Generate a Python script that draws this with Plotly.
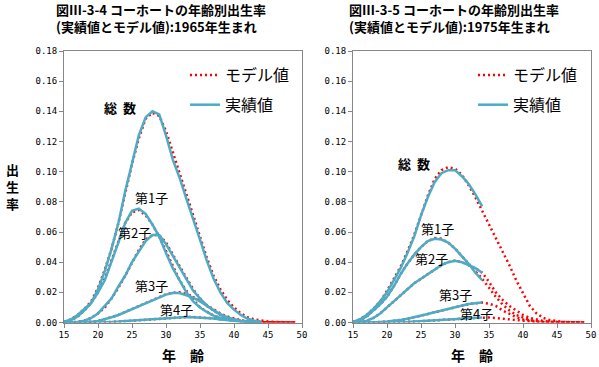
import plotly.graph_objects as go

W, H = 599, 367

# ---------------- data ----------------
ages_model = list(range(15, 50))      # model values: age 15..49
ages_1965 = list(range(15, 45))       # actual values 1965 cohort: 15..44
ages_1975 = list(range(15, 35))       # actual values 1975 cohort: 15..34
x_ticks = [15, 20, 25, 30, 35, 40, 45, 50]

# 1965 cohort - actual
act65_total = [0.0005, 0.002, 0.005, 0.009, 0.013, 0.022, 0.034, 0.049, 0.066, 0.087,
               0.106, 0.124, 0.136, 0.140, 0.138, 0.124, 0.108, 0.096, 0.082, 0.069,
               0.055, 0.041, 0.029, 0.020, 0.013, 0.0085, 0.005, 0.0025, 0.0012, 0.0005]
act65_1st = [0.0003, 0.0015, 0.004, 0.008, 0.013, 0.020, 0.028, 0.040, 0.053, 0.066,
             0.074, 0.0755, 0.072, 0.065, 0.057, 0.046, 0.036, 0.028, 0.020, 0.014,
             0.010, 0.007, 0.0045, 0.003, 0.002, 0.0012, 0.0007, 0.0004, 0.0002, 0.0001]
act65_2nd = [0.0, 0.0001, 0.0004, 0.0012, 0.003, 0.006, 0.011, 0.016, 0.024, 0.031,
             0.040, 0.047, 0.054, 0.058, 0.058, 0.052, 0.044, 0.036, 0.028, 0.021,
             0.016, 0.011, 0.008, 0.005, 0.003, 0.0018, 0.001, 0.0005, 0.0002, 0.0001]
act65_3rd = [0.0, 0.0, 0.0001, 0.0002, 0.0005, 0.001, 0.002, 0.0035, 0.005, 0.007,
             0.009, 0.011, 0.013, 0.015, 0.017, 0.0185, 0.0195, 0.0195, 0.018, 0.0165,
             0.014, 0.011, 0.008, 0.0055, 0.0035, 0.002, 0.0012, 0.0006, 0.0003, 0.0001]
act65_4th = [0.0, 0.0, 0.0, 0.0, 0.0, 0.0001, 0.0002, 0.0004, 0.0006, 0.0009,
             0.0012, 0.0015, 0.0019, 0.0023, 0.0027, 0.003, 0.0033, 0.0035, 0.0036, 0.0035,
             0.0033, 0.003, 0.0026, 0.002, 0.0015, 0.001, 0.0007, 0.0004, 0.0002, 0.0001]

# 1965 cohort - model
mod65_total = [0.0005, 0.002, 0.005, 0.009, 0.014, 0.023, 0.035, 0.049, 0.066, 0.086,
               0.105, 0.122, 0.135, 0.139, 0.137, 0.127, 0.113, 0.099, 0.085, 0.071,
               0.057, 0.043, 0.031, 0.022, 0.015, 0.010, 0.006, 0.0035, 0.002, 0.0012,
               0.0007, 0.0004, 0.0002, 0.0001, 0.0]
mod65_1st = [0.0003, 0.0015, 0.004, 0.008, 0.013, 0.020, 0.029, 0.041, 0.054, 0.066,
             0.073, 0.0745, 0.071, 0.065, 0.057, 0.047, 0.037, 0.028, 0.021, 0.015,
             0.010, 0.007, 0.0045, 0.003, 0.002, 0.0013, 0.0008, 0.0005, 0.0003, 0.0002,
             0.0001, 0.0, 0.0, 0.0, 0.0]
mod65_2nd = [0.0, 0.0001, 0.0004, 0.0012, 0.003, 0.006, 0.010, 0.016, 0.023, 0.031,
             0.040, 0.048, 0.055, 0.058, 0.058, 0.053, 0.045, 0.037, 0.029, 0.022,
             0.016, 0.011, 0.008, 0.005, 0.003, 0.002, 0.0012, 0.0007, 0.0004, 0.0002,
             0.0001, 0.0, 0.0, 0.0, 0.0]
mod65_3rd = [0.0, 0.0, 0.0001, 0.0002, 0.0005, 0.001, 0.002, 0.0035, 0.005, 0.007,
             0.009, 0.011, 0.013, 0.015, 0.017, 0.0187, 0.0197, 0.020, 0.019, 0.017,
             0.0145, 0.0115, 0.0085, 0.006, 0.004, 0.0025, 0.0015, 0.0009, 0.0005, 0.0003,
             0.0002, 0.0001, 0.0, 0.0, 0.0]
mod65_4th = [0.0, 0.0, 0.0, 0.0, 0.0, 0.0001, 0.0002, 0.0004, 0.0006, 0.0009,
             0.0012, 0.0015, 0.0019, 0.0023, 0.0027, 0.003, 0.0033, 0.0035, 0.0036, 0.0036,
             0.0034, 0.0031, 0.0027, 0.0022, 0.0017, 0.0012, 0.0008, 0.0005, 0.0003, 0.0002,
             0.0001, 0.0, 0.0, 0.0, 0.0]

# 1975 cohort - actual
act75_total = [0.0005, 0.002, 0.005, 0.009, 0.014, 0.020, 0.028, 0.036, 0.046, 0.057,
               0.071, 0.083, 0.093, 0.099, 0.101, 0.101, 0.097, 0.092, 0.085, 0.077]
act75_1st = [0.0003, 0.0015, 0.004, 0.008, 0.012, 0.017, 0.024, 0.032, 0.039, 0.045,
             0.050, 0.054, 0.0555, 0.055, 0.053, 0.049, 0.044, 0.039, 0.033, 0.028]
act75_2nd = [0.0, 0.0003, 0.001, 0.003, 0.006, 0.010, 0.014, 0.018, 0.022, 0.026,
             0.029, 0.032, 0.035, 0.038, 0.040, 0.041, 0.040, 0.038, 0.036, 0.033]
act75_3rd = [0.0, 0.0, 0.0, 0.0001, 0.0003, 0.0006, 0.001, 0.0017, 0.0025, 0.0034,
             0.0045, 0.0056, 0.0068, 0.0079, 0.009, 0.0102, 0.0113, 0.0122, 0.0128, 0.0132]
act75_4th = [0.0, 0.0, 0.0, 0.0, 0.0, 0.0001, 0.0002, 0.0003, 0.0004, 0.0006,
             0.0008, 0.001, 0.0013, 0.0016, 0.0019, 0.0022, 0.0025, 0.0028, 0.0031, 0.0033]

# 1975 cohort - model
mod75_total = [0.0005, 0.002, 0.005, 0.009, 0.014, 0.021, 0.029, 0.037, 0.047, 0.058,
               0.071, 0.084, 0.095, 0.101, 0.103, 0.102, 0.098, 0.091, 0.083, 0.074,
               0.066, 0.057, 0.048, 0.038, 0.028, 0.019, 0.011, 0.006, 0.003, 0.0015,
               0.0008, 0.0004, 0.0002, 0.0001, 0.0]
mod75_1st = [0.0003, 0.0015, 0.004, 0.008, 0.012, 0.017, 0.024, 0.032, 0.039, 0.045,
             0.050, 0.054, 0.056, 0.0555, 0.053, 0.049, 0.044, 0.039, 0.034, 0.029,
             0.023, 0.017, 0.012, 0.008, 0.005, 0.003, 0.0015, 0.0008, 0.0004, 0.0002,
             0.0001, 0.0, 0.0, 0.0, 0.0]
mod75_2nd = [0.0, 0.0003, 0.001, 0.003, 0.006, 0.010, 0.014, 0.018, 0.022, 0.026,
             0.029, 0.032, 0.035, 0.038, 0.040, 0.041, 0.040, 0.038, 0.036, 0.033,
             0.027, 0.020, 0.015, 0.011, 0.008, 0.005, 0.003, 0.0018, 0.001, 0.0005,
             0.0003, 0.0001, 0.0, 0.0, 0.0]
mod75_3rd = [0.0, 0.0, 0.0, 0.0001, 0.0003, 0.0006, 0.001, 0.0017, 0.0025, 0.0034,
             0.0045, 0.0056, 0.0068, 0.0079, 0.009, 0.0102, 0.0113, 0.0122, 0.0128, 0.0132,
             0.0125, 0.011, 0.008, 0.0055, 0.0035, 0.002, 0.0012, 0.0007, 0.0004, 0.0002,
             0.0001, 0.0, 0.0, 0.0, 0.0]
mod75_4th = [0.0, 0.0, 0.0, 0.0, 0.0, 0.0001, 0.0002, 0.0003, 0.0004, 0.0006,
             0.0008, 0.001, 0.0013, 0.0016, 0.0019, 0.0022, 0.0025, 0.0028, 0.0031, 0.0033,
             0.0033, 0.003, 0.0025, 0.002, 0.0014, 0.001, 0.0006, 0.0003, 0.0002, 0.0001,
             0.0, 0.0, 0.0, 0.0, 0.0]

series_labels = ["<b>総&nbsp;&nbsp;数</b>", "第1子", "第2子", "第3子", "第4子"]
# label anchor points (age, rate) for each panel
label_x_1965 = [23.2, 27.9, 25.4, 27.8, 31.5]
label_y_1965 = [0.1425, 0.083, 0.0595, 0.0245, 0.0085]
label_x_1975 = [23.9, 27.4, 26.6, 30.0, 33.2]
label_y_1975 = [0.1055, 0.0625, 0.0425, 0.0185, 0.006]

titles_1 = ["図Ⅲ-3-4 コーホートの年齢別出生率", "図Ⅲ-3-5 コーホートの年齢別出生率"]
titles_2 = ["(実績値とモデル値):1965年生まれ", "(実績値とモデル値):1975年生まれ"]
legend_names = ["モデル値", "実績値"]
y_title = "出<br>生<br>率"
x_title = "年　齢"

# ---------------- style ----------------
RED = "#FF0000"
BLUE = "#4BACC6"
AXIS = "#868686"
JP = "Noto Sans CJK JP"
MONO = "DejaVu Sans Mono"

fig = go.Figure()

panels = [
    ("x", "y", "legend", ages_1965,
     [mod65_total, mod65_1st, mod65_2nd, mod65_3rd, mod65_4th],
     [act65_total, act65_1st, act65_2nd, act65_3rd, act65_4th],
     label_x_1965, label_y_1965),
    ("x2", "y2", "legend2", ages_1975,
     [mod75_total, mod75_1st, mod75_2nd, mod75_3rd, mod75_4th],
     [act75_total, act75_1st, act75_2nd, act75_3rd, act75_4th],
     label_x_1975, label_y_1975),
]

for xa, ya, lg, ages_act, mods, acts, lx, ly in panels:
    for i, m in enumerate(mods):
        fig.add_trace(go.Scatter(
            x=ages_model, y=m, xaxis=xa, yaxis=ya, mode="lines",
            line=dict(color=RED, width=2.5, dash="2px,3px"),
            name=legend_names[0], showlegend=(i == 0), legend=lg,
            legendgroup=lg + "m", hoverinfo="skip"))
    for i, a in enumerate(acts):
        fig.add_trace(go.Scatter(
            x=ages_act, y=a, xaxis=xa, yaxis=ya, mode="lines",
            line=dict(color=BLUE, width=2.5),
            name=legend_names[1], showlegend=(i == 0), legend=lg,
            legendgroup=lg + "a", hoverinfo="skip"))
    for i, t in enumerate(series_labels):
        fig.add_annotation(
            x=lx[i], y=ly[i], xref=xa, yref=ya, text=t, showarrow=False,
            font=dict(family=JP, size=13, color="black"),
            xanchor="center", yanchor="middle")

# plot area geometry (pixels)
L1, R1 = 64, 302
L2, R2 = 353, 591
TOP, BOT = 51, 322.5

def px(xp):
    return xp / W

def py(yp):
    return 1 - yp / H

axis_common = dict(showgrid=False, zeroline=False, showline=True, linecolor=AXIS,
                   linewidth=1, mirror=True, ticks="outside", ticklen=4,
                   tickcolor=AXIS, automargin=False,
                   tickfont=dict(family=MONO, size=9, color="black"))

leg_common = dict(xanchor="left", yanchor="top",
                  font=dict(family=JP, size=16, color="black"), bgcolor="rgba(0,0,0,0)",
                  itemwidth=30, tracegroupgap=6)

fig.update_layout(
    width=W, height=H,
    margin=dict(l=0, r=0, t=0, b=0, autoexpand=False),
    paper_bgcolor="white", plot_bgcolor="white",
    xaxis=dict(domain=[px(L1), px(R1)], range=[15, 50], tickvals=x_ticks, anchor="y", **axis_common),
    yaxis=dict(domain=[py(BOT), py(TOP)], range=[0, 0.18], dtick=0.02, tickformat=".2f", anchor="x", **axis_common),
    xaxis2=dict(domain=[px(L2), px(R2)], range=[15, 50], tickvals=x_ticks, anchor="y2", **axis_common),
    yaxis2=dict(domain=[py(BOT), py(TOP)], range=[0, 0.18], dtick=0.02, tickformat=".2f", anchor="x2", **axis_common),
    legend=dict(x=px(185), y=py(58), **leg_common),
    legend2=dict(x=px(473), y=py(58), **leg_common),
    showlegend=True,
)

# titles (two separate lines)
for k, x0 in enumerate([55, 348]):
    fig.add_annotation(x=px(x0), y=py(9.5), xref="paper", yref="paper", text="<b>" + titles_1[k] + "</b>",
                       showarrow=False, xanchor="left", yanchor="middle", borderpad=0,
                       font=dict(family=JP, size=13, color="black"))
    fig.add_annotation(x=px(x0), y=py(27), xref="paper", yref="paper", text="<b>" + titles_2[k] + "</b>",
                       showarrow=False, xanchor="left", yanchor="middle", borderpad=0,
                       font=dict(family=JP, size=13, color="black"))

# x axis titles
for cx in [(L1 + R1) / 2, (L2 + R2) / 2]:
    fig.add_annotation(x=px(cx), y=py(355), xref="paper", yref="paper", text="<b>" + x_title + "</b>",
                       showarrow=False, xanchor="center", yanchor="middle",
                       font=dict(family=JP, size=14, color="black"))

# y axis title (stacked characters)
fig.add_annotation(x=px(12), y=py(186), xref="paper", yref="paper", text="<b>" + y_title + "</b>",
                   showarrow=False, xanchor="center", yanchor="middle",
                   font=dict(family=JP, size=13, color="black"))

fig.write_html("out.html", config={"displayModeBar": False},
               post_script="document.body.style.margin='0px';")
